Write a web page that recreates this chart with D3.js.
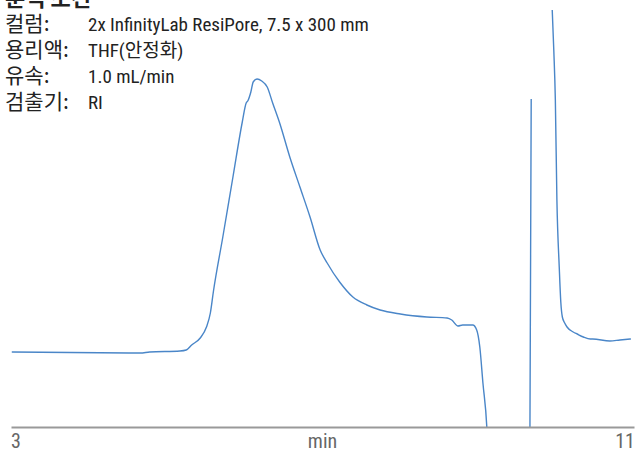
<!DOCTYPE html>
<html>
<head>
<meta charset="utf-8">
<script src="https://cdn.jsdelivr.net/npm/d3@7"></script>
<style>
  html, body { margin: 0; padding: 0; background: #fff; }
  svg { display: block; }
</style>
</head>
<body>
<svg id="chart" width="642" height="453"></svg>
<script>
// Retention time (min) of each sample point on the RI trace
const times = [
  3.01, 4.66, 4.78, 5.17, 5.25, 5.32, 5.43, 5.51, 5.56, 5.60, 5.72,
  5.85, 5.97, 6.02, 6.04, 6.08, 6.11, 6.16, 6.22, 6.29, 6.36, 6.45, 6.58,
  6.71, 6.84, 6.97, 7.06, 7.22, 7.39, 7.57, 7.74, 8.00, 8.34, 8.60, 8.66,
  8.74, 8.80, 8.93, 8.98, 9.02, 9.06, 9.11, 9.15, 9.66, 9.68, null,
  9.95, 9.97, 9.99, 10.01, 10.04, 10.06, 10.08, 10.11, 10.14, 10.22,
  10.27, 10.35, 10.44, 10.47, 10.69, 10.82, 10.96
];
// Detector response (arbitrary units); null breaks the trace
const response = [
  75, 74, 75, 76, 77, 82, 89, 100, 114, 136, 190,
  250, 305, 324, 326, 335, 345, 348, 346, 340, 324, 304, 270,
  240, 210, 177, 164, 145, 130, 122, 117, 113, 110, 109, 107,
  101, 102, 102, 97, 80, 44, 0, -80, -80, 328, null,
  417, 377, 327, 227, 160, 125, 110, 104, 100, 95,
  93, 90, 88, 88, 86, 87, 88
];
const xTicks = [3, 11];
const xLabel = "min";
const title = "분석 조건";
const condKeys = ["컬럼:", "용리액:", "유속:", "검출기:"];
const condValues = ["2x InfinityLab ResiPore, 7.5 x 300 mm", "THF(안정화)", "1.0 mL/min", "RI"];

const svg = d3.select("#chart");
const margin = { left: 11, right: 8, top: 10, bottom: 26 };
const W = 642, H = 453;
const narrowFont = "'Roboto Condensed', 'Noto Sans CJK KR', sans-serif";
const cjkFont = "'Noto Sans CJK KR', sans-serif";

const x = d3.scaleLinear().domain([3, 11]).range([margin.left, W - margin.right]);
const y = d3.scaleLinear().domain([0, 417]).range([H - margin.bottom, margin.top]);

svg.append("defs").append("clipPath").attr("id", "plotClip")
  .append("rect").attr("x", 0).attr("y", 0)
  .attr("width", W).attr("height", y(0));

const pts = times.map((t, i) => ({ t, v: response[i] }));
const line = d3.line()
  .defined(d => d.t !== null && d.v !== null)
  .x(d => x(d.t)).y(d => y(d.v))
  .curve(d3.curveMonotoneX);

svg.append("path")
  .datum(pts)
  .attr("clip-path", "url(#plotClip)")
  .attr("fill", "none")
  .attr("stroke", "#4a86c8")
  .attr("stroke-width", 1.4)
  .attr("d", line);

// x axis: baseline rule with the two end labels
const axisY = y(0);
const axis = svg.append("g").attr("transform", `translate(0,${axisY})`)
  .call(d3.axisBottom(x).tickValues(xTicks).tickSize(0).tickFormat(() => ""));
axis.select(".domain").attr("stroke", "#999").attr("stroke-width", 2);

const labels = svg.append("g")
  .attr("font-family", narrowFont)
  .attr("font-size", 20)
  .attr("fill", "#666");
xTicks.forEach((t, i) => {
  labels.append("text")
    .attr("x", x(t) + (i === 0 ? 0 : 1))
    .attr("y", axisY + 21)
    .attr("text-anchor", i === 0 ? "start" : "end")
    .text(String(t));
});
labels.append("text")
  .attr("x", x(7)).attr("y", axisY + 21)
  .attr("text-anchor", "middle")
  .text(xLabel);

// Conditions block
svg.append("text")
  .attr("x", 5).attr("y", 6)
  .attr("font-family", cjkFont)
  .attr("font-weight", "bold")
  .attr("font-size", 22)
  .attr("fill", "#222")
  .text(title);

const rows = svg.append("g");
condKeys.forEach((k, i) => {
  const by = 31 + i * 26;
  rows.append("text")
    .attr("x", 5).attr("y", by)
    .attr("font-family", cjkFont)
    .attr("font-size", 21)
    .attr("fill", "#222")
    .text(k);
  rows.append("text")
    .attr("x", 88).attr("y", by)
    .attr("font-family", narrowFont)
    .attr("font-size", 19)
    .attr("fill", "#222")
    .text(condValues[i]);
});
</script>
</body>
</html>
